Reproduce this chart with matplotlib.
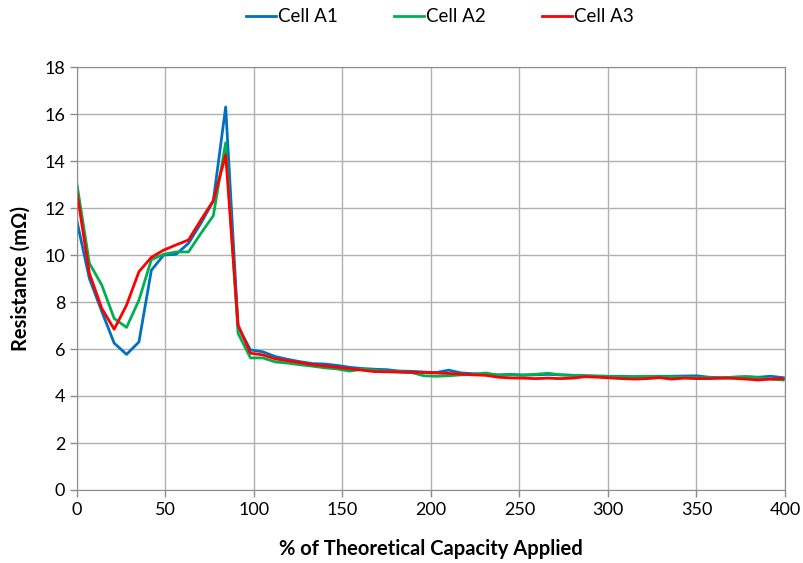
import matplotlib

matplotlib.use("Agg")

import matplotlib.pyplot as plt

plt.rcParams["font.family"] = ["Lato", "DejaVu Sans"]

# % of theoretical capacity applied, sampled every 7 %
pct_applied = list(range(0, 400, 7))

cell_a1 = [
    11.42, 9.0, 7.6, 6.25, 5.77, 6.3, 9.35, 10.0, 10.03, 10.5, 11.35, 12.3, 16.3, 6.95, 5.96,
    5.88, 5.68, 5.56, 5.46, 5.38, 5.36, 5.3, 5.22, 5.17, 5.14, 5.12, 5.06, 5.05, 5.02, 5.0,
    5.1, 4.98, 4.95, 4.93, 4.9, 4.92, 4.88, 4.9, 4.92, 4.9, 4.88, 4.86, 4.85, 4.84, 4.84,
    4.82, 4.83, 4.84, 4.84, 4.85, 4.86, 4.8, 4.78, 4.8, 4.82, 4.8, 4.84, 4.78,
]
cell_a2 = [
    13.0, 9.65, 8.72, 7.3, 6.92, 8.08, 9.8, 10.03, 10.13, 10.13, 10.92, 11.67, 14.78, 6.67, 5.62,
    5.62, 5.45, 5.4, 5.33, 5.27, 5.2, 5.15, 5.06, 5.14, 5.1, 5.05, 5.02, 5.0, 4.86, 4.84,
    4.86, 4.9, 4.92, 4.98, 4.88, 4.9, 4.9, 4.92, 4.97, 4.9, 4.88, 4.86, 4.84, 4.83, 4.82,
    4.82, 4.84, 4.82, 4.82, 4.8, 4.78, 4.78, 4.76, 4.8, 4.82, 4.78, 4.72, 4.68,
]
cell_a3 = [
    12.65, 9.22, 7.73, 6.84, 7.87, 9.29, 9.9, 10.21, 10.43, 10.64, 11.49, 12.31, 14.26, 7.02, 5.82,
    5.75, 5.58, 5.5, 5.42, 5.33, 5.28, 5.22, 5.16, 5.1, 5.04, 5.03, 5.02, 5.0, 5.0, 4.98,
    4.96, 4.93, 4.9, 4.88, 4.8, 4.77, 4.76, 4.74, 4.76, 4.74, 4.76, 4.82, 4.8, 4.77, 4.74,
    4.72, 4.74, 4.78, 4.72, 4.76, 4.74, 4.74, 4.76, 4.75, 4.72, 4.68, 4.72, 4.74,
]

series = [
    ("Cell A1", cell_a1, "#0070C0"),
    ("Cell A2", cell_a2, "#00B050"),
    ("Cell A3", cell_a3, "#FF0000"),
]

x_ticks = [0, 50, 100, 150, 200, 250, 300, 350, 400]
y_ticks = [0, 2, 4, 6, 8, 10, 12, 14, 16, 18]

fig = plt.figure(figsize=(8.04, 5.63), dpi=100)
ax = fig.add_axes([77 / 804, 1 - 490 / 563, 708 / 804, 423 / 563])

for label, values, color in series:
    ax.plot(pct_applied, values, color=color, lw=2.0, label=label, solid_joinstyle="round")

ax.set_xlim(0, 400)
ax.set_ylim(0, 18)
ax.set_xticks(x_ticks)
ax.set_yticks(y_ticks)
ax.grid(True, color="#b0b0b0", lw=1.0)
ax.set_axisbelow(True)
for spine in ax.spines.values():
    spine.set_color("#8c8c8c")
ax.tick_params(axis="both", colors="#8c8c8c", labelcolor="black", labelsize=13, length=5, width=1)

ax.set_xlabel("% of Theoretical Capacity Applied", fontsize=14.5, fontweight="bold", labelpad=15)
ax.set_ylabel("Resistance (m\u03a9)", fontsize=14.5, fontweight="bold", labelpad=10)

fig.legend(
    loc="center",
    bbox_to_anchor=(440 / 804, 1 - 17 / 563),
    ncol=3,
    frameon=False,
    fontsize=13.5,
    handlelength=1.6,
    handletextpad=0.1,
    columnspacing=3.0,
)

fig.savefig("out.png", dpi=100, facecolor="white")
